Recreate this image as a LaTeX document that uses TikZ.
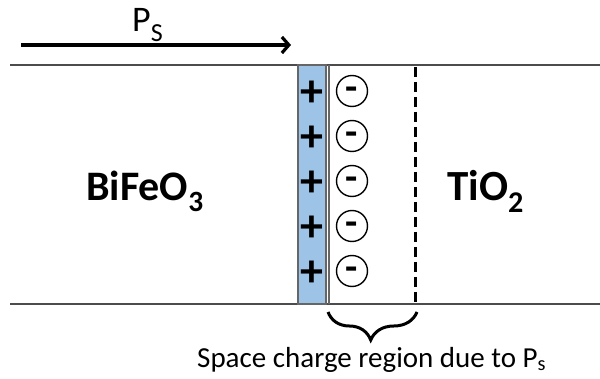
\documentclass[tikz,border=0pt]{standalone}
\usepackage{fontspec}
\setmainfont{Carlito}
\usetikzlibrary{decorations.pathreplacing,arrows.meta}
\begin{document}
\begin{tikzpicture}[x=1pt,y=-1pt,
  edge/.style={draw=black!70,line width=1.8pt},
  txt/.style={inner sep=0pt,anchor=base west},
  plus/.style={font=\fontsize{46}{46}\selectfont\bfseries,inner sep=0pt,text height=0pt,text depth=0pt},
  minus/.style={circle,draw,line width=1.4pt,minimum size=31pt,inner sep=0pt,text height=0pt,text depth=0pt,font=\fontsize{40}{40}\selectfont\bfseries}]
\useasboundingbox (0,0) rectangle (600,379);
\fill[fill=white] (0,0) rectangle (600,379);
\coordinate (tl) at (10,65);
\coordinate (tr) at (600,65);
\coordinate (bl) at (10,304);
\coordinate (br) at (600,304);
\draw[edge] (tl) -- (tr);
\draw[edge] (bl) -- (br);
\draw[fill={rgb,255:red,157;green,195;blue,230},draw=black!60,line width=1.4pt] (298,65) rectangle (326,304);
\draw[draw=black!60,line width=1.4pt] (329,65) -- (329,304);
\draw[line width=3pt,dash pattern=on 10pt off 5pt] (415,67) -- (415,304);
\foreach \y/\n in {91/1,136/2,181/3,226/4,271/5}{
  \node[plus] (p\n) at (312,\y) {\raisebox{-15.5pt}{+}};
  \node[minus] (m\n) at (352,\y) {\raisebox{-10pt}{-}};
}
\coordinate (a1) at (21,45);
\coordinate (a2) at (291,45);
\draw[line width=3.2pt,-{Straight Barb[length=7pt,width=16pt,line width=3.2pt]}] (a1) -- (a2);
\node[txt,font=\fontsize{36}{36}\selectfont] (ps) at (132,32) {P\raisebox{-10pt}{\fontsize{26}{26}\selectfont S}};
\node[txt,font=\fontsize{42}{42}\selectfont\bfseries] (bfo) at (86,201) {BiFeO\textsubscript{3}};
\node[txt,font=\fontsize{43}{43}\selectfont\bfseries] (tio) at (447,201) {TiO\textsubscript{2}};
\coordinate (b1) at (328,312);
\coordinate (b2) at (417,312);
\draw[line width=3pt,decorate,decoration={brace,mirror,amplitude=28pt,aspect=0.48}] (b1) -- (b2);
\node[txt,font=\fontsize{29}{29}\selectfont] (lbl) at (197,367) {Space charge region due to P\textsubscript{s}};
\end{tikzpicture}
\end{document}
